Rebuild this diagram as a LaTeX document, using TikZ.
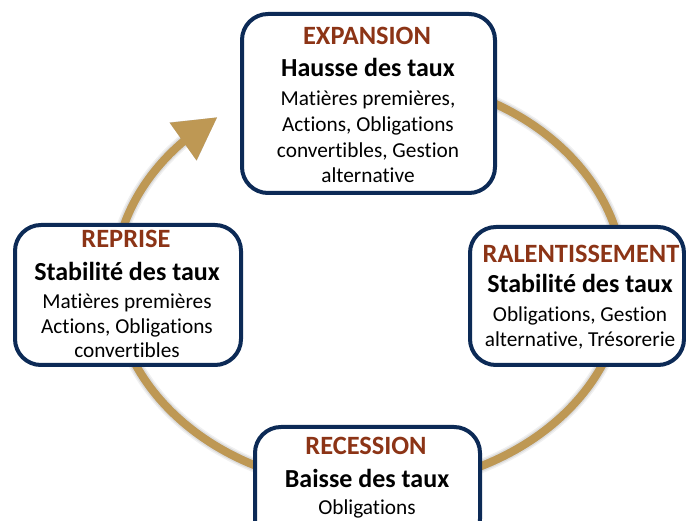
\documentclass[tikz,border=0pt]{standalone}
\usepackage{fontspec}
\setmainfont{Carlito}[RawFeature=-liga]
\usetikzlibrary{arrows.meta,bending,calc}
\definecolor{navy}{RGB}{12,42,86}
\definecolor{gold}{RGB}{190,152,84}
\definecolor{titlered}{RGB}{140,52,22}
\begin{document}
\begin{tikzpicture}[x=1pt,y=-1pt,
  box/.style={draw=navy, line width=4pt, rounded corners=26pt, fill=white, inner sep=0pt, outer sep=0pt},
  ttl/.style={anchor=base, text=titlered, font=\fontsize{26.4}{30}\selectfont\bfseries, inner sep=0pt},
  sub/.style={anchor=base, font=\fontsize{26}{30}\selectfont\bfseries, inner sep=0pt},
  body/.style={anchor=base, font=\fontsize{21.3}{26}\selectfont, inner sep=0pt},
  ring/.style={line width=8pt, -{Triangle[length=42pt,width=44pt]}}]
\useasboundingbox (0,0) rectangle (686,521);
\clip (0,0) rectangle (686,521);
\fill[white] (0,0) rectangle (686,521);
\coordinate (c) at (369,282);
% shadow of the ring
\foreach \w/\o in {14/0.06,11/0.08,8/0.12}{
  \draw[black, opacity=\o, line width=\w pt, -{Triangle[length=42pt,width=44pt]}, shift={(4,5)}]
    ($(c)+(-80:255 and 205)$) arc[start angle=-80, end angle=233.5, x radius=255, y radius=205];
}
% ring
\draw[gold, ring] ($(c)+(-80:255 and 205)$) arc[start angle=-80, end angle=233.5, x radius=255, y radius=205];
% boxes
\node[box, minimum width=253pt, minimum height=179pt] (exp) at (368.5,103.5) {};
\node[box, minimum width=226pt, minimum height=140pt] (rep) at (128,295) {};
\node[box, minimum width=214pt, minimum height=138pt] (ral) at (577,296) {};
\node[box, minimum width=225pt, minimum height=118pt] (rec) at (367.5,486) {};
% texts
\node[ttl] (exp1) at (367,45) {EXPANSION};
\node[sub] (exp2) at (368,77) {Hausse des taux};
\node[body] (exp3) at (368,106) {Matières premières,};
\node[body] (exp4) at (368,132) {Actions, Obligations};
\node[body] (exp5) at (368,158) {convertibles, Gestion};
\node[body] (exp6) at (368,183) {alternative};
\node[ttl] (rep1) at (126,248) {REPRISE};
\node[sub] (rep2) at (127,281) {Stabilité des taux};
\node[body] (rep3) at (127,309) {Matières premières};
\node[body] (rep4) at (127,334) {Actions, Obligations};
\node[body] (rep5) at (127,358) {convertibles};
\node[ttl] (ral1) at (581,263) {RALENTISSEMENT};
\node[sub] (ral2) at (580,293) {Stabilité des taux};
\node[body] (ral3) at (580,322) {Obligations, Gestion};
\node[body] (ral4) at (580,347) {alternative, Trésorerie};
\node[ttl] (rec1) at (366,455) {RECESSION};
\node[sub] (rec2) at (367,487) {Baisse des taux};
\node[body] (rec3) at (367,514) {Obligations};
\end{tikzpicture}
\end{document}
